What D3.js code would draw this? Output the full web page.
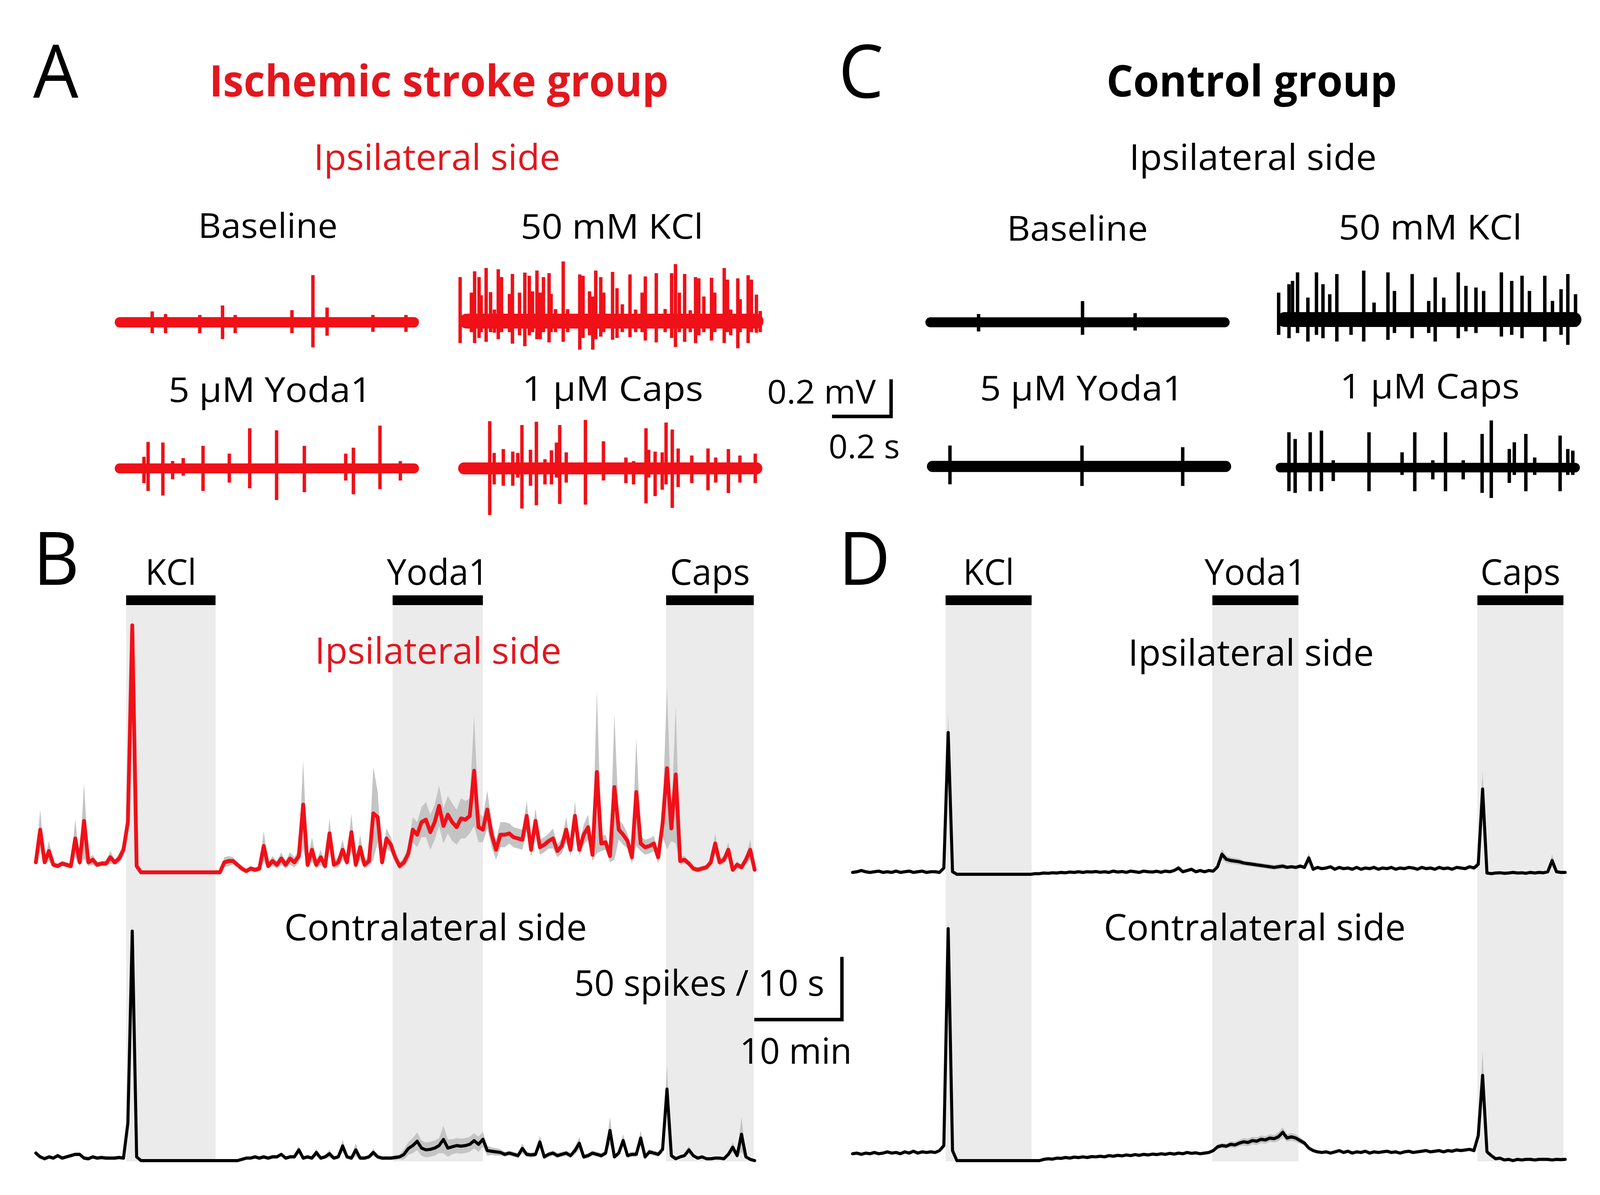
<!DOCTYPE html>
<html><head><meta charset="utf-8">
<script src="https://cdn.jsdelivr.net/npm/d3@7/dist/d3.min.js"></script>
<style>html,body{margin:0;padding:0;background:#fff;overflow:hidden;width:100%;height:100%;} svg{display:block;width:100vw;height:100vh;}</style>
</head><body>
<svg id="chart" viewBox="0 0 4198 3059" preserveAspectRatio="none"></svg>
<script>
// ================= DATA =================
// Panels B / D: spikes per 10 s, one value every 0.5 min (t = 0 ... 82 min)
const binMinutes = 0.5;
const drugNames = ["KCl", "Yoda1", "Caps"];
const drugWindowsB = [[10.3, 20.5], [40.7, 51.0], [71.9, 81.9]];   // min
const drugWindowsD = [[10.7, 20.6], [41.4, 51.3], [71.9, 81.8]];   // min

const strokeIpsi = [8,34,8,17,6,5,7,6,5,27,
 8,41,8,10,6,7,7,12,8,11,
 18,40,197,5,0,0,0,0,0,0,
 0,0,0,0,0,0,0,0,0,0,
 0,0,0,8,9,9,6,3,1,3,
 2,3,21,5,9,6,11,6,11,8,
 13,54,6,18,6,12,5,31,6,8,
 18,8,32,6,20,6,9,47,44,8,
 27,22,12,5,8,15,34,30,40,42,
 32,40,53,37,46,40,36,43,42,45,
 81,36,34,50,30,18,30,30,31,28,
 27,26,45,18,41,20,22,25,27,17,
 21,34,18,45,18,30,36,14,80,23,
 24,13,68,34,30,25,12,64,23,20,
 21,23,12,39,83,35,78,9,10,7,
 3,2,3,4,8,23,8,10,18,2,
 6,4,10,18,2];
const strokeIpsiSem = [2,16,2,8,2,2,2,2,2,15,
 3,30,3,4,2,2,2,5,2,4,
 5,8,8,2,0.5,0.5,0.5,0.5,0.5,0.5,
 0.5,0.5,0.5,0.5,0.5,0.5,0.5,0.5,0.5,0.5,
 0.5,0.5,0.5,4,4,3,2,2,1,2,
 2,2,12,2,4,3,5,3,5,4,
 5,35,3,10,3,6,3,12,3,4,
 8,3,15,3,10,3,4,37,20,4,
 8,6,4,3,4,6,10,10,12,14,
 14,14,16,14,15,15,14,16,15,14,
 44,12,10,15,10,8,10,10,8,8,
 8,8,12,6,10,6,6,6,8,5,
 6,10,5,12,5,8,10,5,65,6,
 6,5,58,8,8,6,5,43,6,6,
 6,6,5,10,65,10,55,3,3,2,
 2,2,2,2,3,8,3,3,6,2,
 3,2,3,8,2];

const strokeContra = [6,3,1.5,3,2,4,2,3,4,5,
 5,2,1.5,3,2,2.5,2,2,2,2.5,
 2,30,183,3,0,0,0,0,0,0,
 0,0,0,0,0,0,0,0,0,0,
 0,0,0,0,0,0,0,1,2,2,
 3,2,3,2,3,3,5,2,3,3,
 8.6,2,3,2,6.5,2,3,5.5,2,3,
 11.7,3,2,8.6,2,2,3,6.5,3,2,
 2,2,2.5,3,5,9.7,12,15.4,10,8.6,
 9,10,12,16.9,10,11,12,11.5,12,13,
 15.9,13,17,8,7.5,7,6.5,5,6,5,
 4,9.7,5,4.5,5,14.9,3,5,6,4,
 5,6,4,8,13.8,3,4,6,5,4,
 6,24,3,6,16,4,5,5,18,3,
 7,6,5,9,57,4,1.5,3,4,8.6,
 4,2,3,1.5,1.5,2,2,1.5,5,10.7,
 4,21,3,1,0];
const strokeContraSem = [2,1.5,1.5,1.5,1.5,1.5,1.5,1.5,1.5,1.5,
 1.5,1.5,1.5,1.5,1.5,1.5,1.5,1.5,1.5,1.5,
 1.5,5,6,1,0.3,0.3,0.3,0.3,0.3,0.3,
 0.3,0.3,0.3,0.3,0.3,0.3,0.3,0.3,0.3,0.3,
 0.3,0.3,0.3,0.3,0.3,0.3,0.3,1,1,1,
 1.5,1.5,1.5,1.5,1.5,1.5,1.5,1.5,1.5,1.5,
 3,1.5,1.5,1.5,3,1.5,1.5,3,1.5,1.5,
 5,1.5,1.5,5,1.5,1.5,1.5,3,1.5,1.5,
 1.5,1.5,2,2,4,5,6,7,6,6,
 6,6,6,11,7,6,6,6,6,6,
 6,6,6,4,3,3,2.5,2,2,2,
 2,4,2,2,2,5,2,2,2,2,
 2,2,2,3,5,2,2,2,2,2,
 2,11,2,2,5,2,2,2,6,2,
 2,2,2,3,19,2,1,1,1.5,3,
 1.5,1,1,1,1,1,1,1,2,4,
 1.5,14,1.5,1,1];

const controlIpsi = [1.5,2,3,2,1.5,2,2.5,1.5,2,1.5,
 2.5,1.5,2,2.5,1.5,2,2.5,1.5,2,2,
 1.5,5,113,2,0,0,0,0,0,0,
 0,0,0,0,0,0,0,0,0,0,
 0,0,0.5,0.5,1,0.8,1.2,1,1.5,1.2,
 1.8,1.5,2,1.5,2,1.8,2.2,1.6,2,1.5,
 2.5,1.8,2.2,1.5,2.5,2,1.5,2.5,2,1.8,
 2.4,1.6,2.5,2,3,5,2,3,4,2,
 3,2,3,2.5,6,16,12,11,10.5,10,
 9,8.5,8,7.5,7,6.5,6,5.5,6,6.5,
 5.5,6,5.5,6.5,5.5,13,4,5.5,4.5,5,
 6,4,5.5,4.5,5,4,5.5,4,5,4.5,
 5.5,4,5,4.5,5.5,4,5,4.5,5.5,5,
 4,5.5,4.5,5,4,5.5,4.5,5,4,5.5,
 5,4.5,6,5,8,68,1,0.5,1,1.2,
 0.8,1,1.5,1,1.2,0.8,1.5,1,1.5,1.2,
 2,11,2,1.5,1.5];
const controlIpsiSem = [0.8,0.8,0.8,0.8,0.8,0.8,0.8,0.8,0.8,0.8,
 0.8,0.8,0.8,0.8,0.8,0.8,0.8,0.8,0.8,0.8,
 0.8,2,15,1,0.3,0.3,0.3,0.3,0.3,0.3,
 0.3,0.3,0.3,0.3,0.3,0.3,0.3,0.3,0.3,0.3,
 0.3,0.3,0.5,0.5,0.5,0.5,0.5,0.5,0.5,0.5,
 0.6,0.6,0.6,0.6,0.6,0.6,0.6,0.6,0.6,0.6,
 0.7,0.7,0.7,0.7,0.7,0.7,0.7,0.7,0.7,0.7,
 0.8,0.8,0.8,0.8,1,2,1,1,1.5,1,
 1,1,1,1,2,4,3,2.5,2.5,2.5,
 2,2,2,2,2,2,2,2,2,2,
 1.5,1.5,1.5,1.5,1.5,4,1.2,1.2,1.2,1.2,
 1.2,1.2,1.2,1.2,1.2,1.2,1.2,1.2,1.2,1.2,
 1.2,1.2,1.2,1.2,1.2,1.2,1.2,1.2,1.2,1.2,
 1.2,1.2,1.2,1.2,1.2,1.2,1.2,1.2,1.2,1.2,
 1.2,1.2,1.2,1.2,3,15,0.8,0.5,0.5,0.5,
 0.5,0.5,0.5,0.5,0.5,0.5,0.5,0.5,0.5,0.5,
 0.8,5,0.8,0.5,0.5];

const controlContra = [5.5,6,5,6,5.5,6.5,5.5,6,7,6,
 6.5,5.5,7,6,7.5,6,7,6.5,7,6.5,
 8,12,185,8,0,0,0,0,0,0,
 0,0,0,0,0,0,0,0,0,0,
 0,0,0,0,1,1.5,1.2,2,1.8,2.5,
 2,2.8,2.4,3,2.5,3.2,3,3.5,3,4,
 3.5,4.2,3.8,4.5,4,4.8,4.2,5,4.5,5.2,
 4.8,5.5,5,5.8,5.2,6,5.5,6.5,5.8,6.2,
 5.5,6,6.5,8,11,12,11.5,13,12.5,14,
 15,14.5,16,15.5,17,16.5,18,17.5,19,22.6,
 18,19,18,16,14,10,8,7,6.5,7,
 6,7,8,6.5,7.5,6,7,6.5,7.5,6,
 7,6.5,7,7.5,6.5,7,6,7,7.5,6.5,
 7,7.5,8,7,7.5,8,7,8,7.5,8.5,
 8,8.5,9,8,20,68,7,4,1.5,2,
 0.5,1,0,1,0.5,1,1,0.5,1,1,
 1,0.5,1,0.8,1];
const controlContraSem = [1,1,1,1,1,1,1,1,1,1,
 1,1,1,1,1,1,1,1,1,1,
 1,2,8,2,0.3,0.3,0.3,0.3,0.3,0.3,
 0.3,0.3,0.3,0.3,0.3,0.3,0.3,0.3,0.3,0.3,
 0.3,0.3,0.3,0.3,0.6,0.6,0.6,0.6,0.6,0.6,
 0.8,0.8,0.8,0.8,0.8,0.8,0.8,0.8,0.8,0.8,
 0.8,0.8,0.8,0.8,0.8,0.8,0.8,0.8,0.8,0.8,
 0.8,0.8,0.8,0.8,0.8,0.8,0.8,0.8,0.8,0.8,
 0.8,0.8,1,1.5,2,2,2,2.5,2.5,2.5,
 3,3,3,3,3,3,3,3,3.5,4,
 3,3,3,2.5,2,1.5,1,1,1,1,
 1,1,1,1,1,1,1,1,1,1,
 1,1,1,1,1,1,1,1,1,1,
 1,1,1,1,1,1,1,1,1,1,
 1,1,1,1,4,20,2,1,0.5,0.5,
 0.5,0.5,0.5,0.5,0.5,0.5,0.5,0.5,0.5,0.5,
 0.5,0.5,0.5,0.5,0.5];

// Panels A / C: raw extracellular recordings, ~1.03 s each.
// noise = half-width of background band (mV); spikes = [time s, upward mV, downward mV]
const rawDuration = 1.03;
const strokeBaselineNoise = 0.028;
const strokeBaselineSpikes = [[0.127,0.049,0.049],[0.172,0.035,0.049],[0.288,0.03,0.049],[0.365,0.081,0.081],[0.408,0.03,0.049],[0.600,0.056,0.049],[0.671,0.245,0.126],[0.719,0.07,0.063],[0.874,0.03,0.042],[0.986,0.03,0.042]];
const strokeKClNoise = 0.04;
const strokeKClSpikes = [[0.003,0.228,0.109],[0.041,0.144,0.05],[0.052,0.259,0.109],[0.067,0.228,0.081],[0.074,0.130,0.05],[0.091,0.277,0.102],[0.106,0.147,0.05],[0.119,0.053,0.053],[0.132,0.270,0.088],[0.143,0.228,0.05],[0.170,0.137,0.05],[0.180,0.245,0.112],[0.204,0.144,0.067],[0.222,0.252,0.126],[0.237,0.235,0.067],[0.248,0.151,0.05],[0.263,0.263,0.088],[0.274,0.144,0.088],[0.285,0.228,0.05],[0.304,0.249,0.105],[0.311,0.137,0.05],[0.326,0.055,0.05],[0.352,0.312,0.102],[0.367,0.055,0.05],[0.408,0.242,0.144],[0.419,0.235,0.081],[0.441,0.151,0.067],[0.452,0.123,0.144],[0.462,0.263,0.088],[0.479,0.228,0.074],[0.489,0.144,0.05],[0.519,0.256,0.091],[0.534,0.168,0.081],[0.552,0.081,0.05],[0.578,0.242,0.077],[0.597,0.053,0.05],[0.619,0.144,0.05],[0.630,0.231,0.095],[0.667,0.249,0.105],[0.697,0.056,0.05],[0.719,0.249,0.081],[0.732,0.298,0.130],[0.745,0.144,0.05],[0.763,0.245,0.102],[0.782,0.049,0.05],[0.800,0.228,0.109],[0.811,0.221,0.067],[0.828,0.123,0.05],[0.854,0.224,0.095],[0.865,0.144,0.05],[0.897,0.277,0.109],[0.908,0.214,0.05],[0.919,0.053,0.067],[0.943,0.221,0.137],[0.951,0.109,0.05],[0.978,0.238,0.109],[0.989,0.214,0.05],[1.006,0.133,0.053],[1.019,0.045,0.05]];
const strokeYodaNoise = 0.027;
const strokeYodaSpikes = [[0.099,0.053,0.070],[0.113,0.133,0.112],[0.163,0.130,0.137],[0.196,0.03,0.049],[0.232,0.046,0.03],[0.299,0.112,0.112],[0.388,0.070,0.067],[0.457,0.207,0.098],[0.548,0.196,0.161],[0.642,0.112,0.119],[0.782,0.070,0.056],[0.808,0.102,0.130],[0.898,0.221,0.102],[0.967,0.03,0.056]];
const strokeCapsNoise = 0.032;
const strokeCapsSpikes = [[0.107,0.245,0.242],[0.122,0.074,0.077],[0.153,0.095,0.084],[0.185,0.081,0.084],[0.202,0.074,0.04],[0.216,0.224,0.207],[0.245,0.091,0.084],[0.265,0.242,0.189],[0.294,0.04,0.077],[0.316,0.088,0.077],[0.333,0.130,0.04],[0.344,0.224,0.182],[0.366,0.077,0.067],[0.431,0.252,0.186],[0.492,0.137,0.056],[0.568,0.049,0.070],[0.594,0.03,0.077],[0.636,0.207,0.179],[0.645,0.091,0.04],[0.667,0.081,0.140],[0.691,0.077,0.105],[0.704,0.238,0.077],[0.725,0.200,0.203],[0.745,0.098,0.091],[0.791,0.060,0.070],[0.846,0.098,0.109],[0.872,0.049,0.067],[0.915,0.095,0.123],[0.954,0.060,0.067],[1.006,0.070,0.070]];

const controlBaselineNoise = 0.027;
const controlBaselineSpikes = [[0.180,0.035,0.04],[0.532,0.105,0.058],[0.710,0.04,0.035]];
const controlKClNoise = 0.04;
const controlKClSpikes = [[0.005,0.136,0.073],[0.040,0.181,0.091],[0.052,0.199,0.03],[0.069,0.245,0.063],[0.104,0.109,0.109],[0.133,0.245,0.073],[0.155,0.181,0.091],[0.178,0.127,0.03],[0.202,0.236,0.109],[0.250,0.03,0.073],[0.293,0.254,0.109],[0.328,0.082,0.03],[0.375,0.245,0.100],[0.397,0.145,0.063],[0.457,0.236,0.091],[0.513,0.091,0.063],[0.535,0.218,0.109],[0.564,0.109,0.03],[0.613,0.245,0.091],[0.639,0.172,0.054],[0.673,0.163,0.063],[0.699,0.145,0.03],[0.759,0.245,0.082],[0.794,0.199,0.073],[0.829,0.227,0.091],[0.854,0.145,0.03],[0.906,0.227,0.109],[0.932,0.091,0.03],[0.961,0.154,0.073],[0.984,0.236,0.127],[1.010,0.127,0.03]];
const controlYodaNoise = 0.03;
const controlYodaSpikes = [[0.078,0.103,0.087],[0.525,0.103,0.096],[0.866,0.094,0.096]];
const controlCapsNoise = 0.026;
const controlCapsSpikes = [[0.045,0.181,0.118],[0.066,0.145,0.127],[0.117,0.181,0.118],[0.155,0.190,0.118],[0.195,0.03,0.063],[0.316,0.181,0.118],[0.428,0.073,0.03],[0.471,0.181,0.118],[0.532,0.03,0.054],[0.575,0.181,0.118],[0.635,0.03,0.054],[0.699,0.172,0.127],[0.730,0.245,0.154],[0.791,0.091,0.073],[0.808,0.127,0.03],[0.847,0.172,0.118],[0.877,0.045,0.03],[0.963,0.163,0.118],[0.989,0.091,0.03],[1.006,0.082,0.03]];

// ================= DRAWING =================
const svg = d3.select('#chart');
const FONT = "'Open Sans', 'Noto Sans', sans-serif";
const RED_TEXT = '#e3161e', RED_LINE = '#f01018', BLACK = '#000';
const PX_PER_S = 775, PX_PER_MV = 475, PX_PER_SPIKE = 3.21;

svg.append('rect').attr('width', 4198).attr('height', 3059).attr('fill', '#fff');

function label(txt, x, y, size, opt = {}) {
  const t = svg.append('text').attr('x', x).attr('y', y).text(txt)
    .attr('font-family', FONT).attr('font-size', size)
    .attr('font-weight', opt.bold ? 700 : 400)
    .attr('fill', opt.color || BLACK)
    .attr('text-anchor', opt.anchor || 'start');
  if (opt.width) t.attr('textLength', opt.width).attr('lengthAdjust', 'spacingAndGlyphs');
  return t;
}

// ---- panel letters & titles
label('A', 87, 250, 188);
label('C', 2200, 250, 188);
label('B', 87, 1497, 188);
label('D', 2200, 1497, 188);
label('Ischemic stroke group', 549, 247, 112, {bold: true, color: RED_TEXT, width: 1205});
label('Control group', 2903, 247, 112, {bold: true, width: 762});
label('Ipsilateral side', 823, 435, 91, {color: RED_TEXT, width: 647});
label('Ipsilateral side', 2963, 435, 91, {width: 649});

// ---- raw traces
const rawPanels = [
  {name: 'Baseline', x0: 301, cy: 825, lx: 520, ly: 609, lw: 366, noise: strokeBaselineNoise, spikes: strokeBaselineSpikes, color: RED_LINE},
  {name: '50 mM KCl', x0: 1205, cy: 822, lx: 1366, ly: 611, lw: 479, noise: strokeKClNoise, spikes: strokeKClSpikes, color: RED_LINE},
  {name: '5 \u03bcM Yoda1', x0: 301, cy: 1199, lx: 442, ly: 1029, lw: 533, noise: strokeYodaNoise, spikes: strokeYodaSpikes, color: RED_LINE},
  {name: '1 \u03bcM Caps', x0: 1202, cy: 1199, lx: 1370, ly: 1026, lw: 475, noise: strokeCapsNoise, spikes: strokeCapsSpikes, color: RED_LINE},
  {name: 'Baseline', x0: 2428, cy: 825, lx: 2642, ly: 616, lw: 370, noise: controlBaselineNoise, spikes: controlBaselineSpikes, color: BLACK},
  {name: '50 mM KCl', x0: 3351, cy: 818, lx: 3512, ly: 613, lw: 481, noise: controlKClNoise, spikes: controlKClSpikes, color: BLACK},
  {name: '5 \u03bcM Yoda1', x0: 2432, cy: 1194, lx: 2571, ly: 1025, lw: 535, noise: controlYodaNoise, spikes: controlYodaSpikes, color: BLACK},
  {name: '1 \u03bcM Caps', x0: 3347, cy: 1197, lx: 3516, ly: 1020, lw: 471, noise: controlCapsNoise, spikes: controlCapsSpikes, color: BLACK}
];

rawPanels.forEach(p => {
  const x = d3.scaleLinear().domain([0, rawDuration]).range([p.x0, p.x0 + rawDuration * PX_PER_S]);
  const y = d3.scaleLinear().domain([-1, 1]).range([p.cy + PX_PER_MV, p.cy - PX_PER_MV]);
  const g = svg.append('g');
  const bandW = y(-p.noise) - y(p.noise);
  g.append('line').attr('x1', x(0) + bandW / 2).attr('x2', x(rawDuration) - bandW / 2).attr('y1', y(0)).attr('y2', y(0))
    .attr('stroke', p.color).attr('stroke-width', bandW).attr('stroke-linecap', 'round');
  g.selectAll('line.spk').data(p.spikes).join('line').attr('class', 'spk')
    .attr('x1', d => x(d[0])).attr('x2', d => x(d[0]))
    .attr('y1', d => y(d[1])).attr('y2', d => y(-d[2]))
    .attr('stroke', p.color).attr('stroke-width', 9).attr('stroke-linecap', 'square');
  label(p.name, p.lx, p.ly, 88, {width: p.lw});
});

// ---- raw scale bar (0.2 mV, 0.2 s)
{
  const sx = 2338, sy = 1066;
  svg.append('path')
    .attr('d', `M${sx - 0.2 * PX_PER_S},${sy} H${sx} V${sy - 0.2 * PX_PER_MV}`)
    .attr('fill', 'none').attr('stroke', BLACK).attr('stroke-width', 9);
  label('0.2 mV', 2013, 1033, 84, {width: 285});
  label('0.2 s', 2174, 1173, 84, {width: 187});
}

// ---- rate panels
function ratePanel(cfg) {
  const x = d3.scaleLinear().domain([0, 82]).range([cfg.x0, cfg.x0 + 82 * cfg.pxPerMin]);
  cfg.windows.forEach((w, i) => {
    svg.append('rect').attr('x', x(w[0])).attr('width', x(w[1]) - x(w[0]))
      .attr('y', 1549).attr('height', 2973 - 1549).attr('fill', '#ebebeb');
    svg.append('rect').attr('x', x(w[0])).attr('width', x(w[1]) - x(w[0]))
      .attr('y', 1524).attr('height', 25).attr('fill', BLACK);
    label(drugNames[i], (x(w[0]) + x(w[1])) / 2, 1497, 92, {anchor: 'middle', width: [134, 267, 210][i]});
  });
  cfg.traces.forEach(tr => {
    const y = d3.scaleLinear().domain([0, 50]).range([tr.zero, tr.zero - 50 * PX_PER_SPIKE]);
    const data = tr.values.map((v, i) => ({t: i * binMinutes, v, s: tr.sem[i]}));
    svg.append('path').datum(data)
      .attr('d', d3.area().x(d => x(d.t)).y0(d => y(Math.max(0, d.v - d.s))).y1(d => y(d.v + d.s)))
      .attr('fill', '#c4c4c4');
    svg.append('path').datum(data)
      .attr('d', d3.line().x(d => x(d.t)).y(d => y(d.v)))
      .attr('fill', 'none').attr('stroke', tr.color).attr('stroke-width', tr.width)
      .attr('stroke-linejoin', 'round').attr('stroke-linecap', 'round');
  });
  return x;
}

const xB = ratePanel({x0: 94, pxPerMin: 23, windows: drugWindowsB, traces: [
  {values: strokeIpsi, sem: strokeIpsiSem, zero: 2233, color: RED_LINE, width: 10},
  {values: strokeContra, sem: strokeContraSem, zero: 2971, color: BLACK, width: 8}
]});
const xD = ratePanel({x0: 2237, pxPerMin: 22.8, windows: drugWindowsD, traces: [
  {values: controlIpsi, sem: controlIpsiSem, zero: 2238, color: BLACK, width: 8},
  {values: controlContra, sem: controlContraSem, zero: 2971, color: BLACK, width: 8}
]});

label('Ipsilateral side', 826, 1699, 94, {color: RED_TEXT, width: 647});
label('Contralateral side', 746, 2407, 94, {width: 794});
label('Ipsilateral side', 2960, 1704, 94, {width: 645});
label('Contralateral side', 2896, 2407, 94, {width: 792});

// ---- rate scale bar (50 spikes / 10 s, 10 min)
{
  const yS = d3.scaleLinear().domain([0, 50]).range([2610, 2610 - 50 * PX_PER_SPIKE]);
  const bx = 2209;
  svg.append('path')
    .attr('d', `M${bx - (xB(10) - xB(0))},${yS(0)} H${bx} V${yS(50)}`)
    .attr('fill', 'none').attr('stroke', BLACK).attr('stroke-width', 9);
  label('50 spikes / 10 s', 1506, 2549, 92, {width: 657});
  label('10 min', 1941, 2723, 92, {width: 294});
}
</script>
</body></html>
